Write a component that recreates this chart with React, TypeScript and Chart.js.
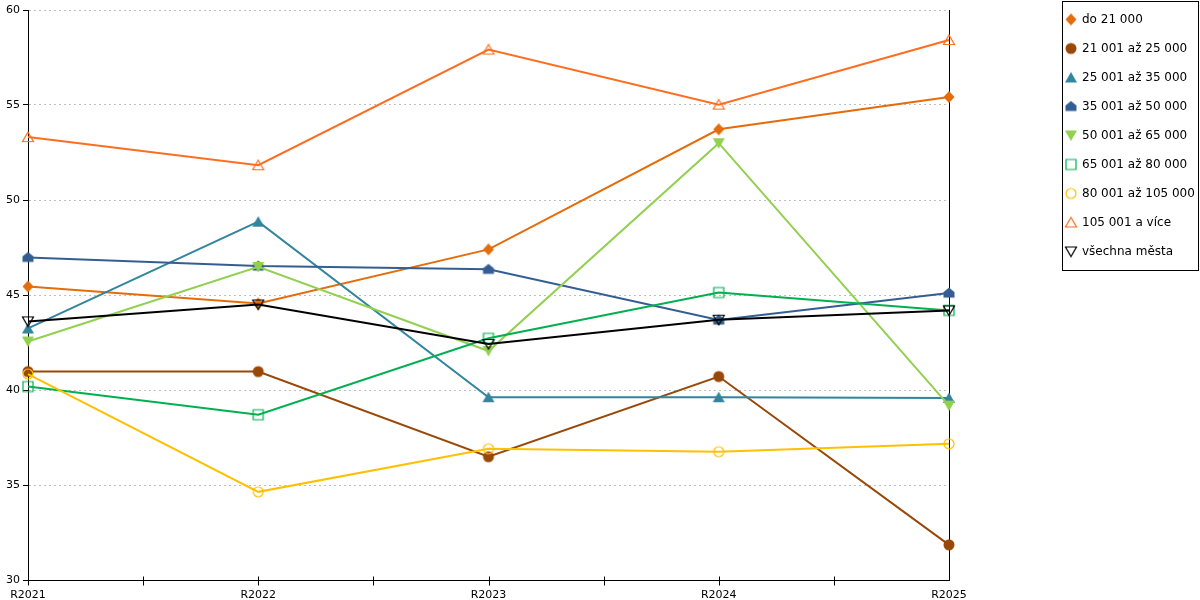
import { useEffect, useRef } from 'react';
import { Chart, registerables } from 'chart.js';

Chart.register(...registerables);

// ---- data ----
const years = ['R2021', 'R2022', 'R2023', 'R2024', 'R2025'];

const seriesNames = [
  'do 21 000',
  '21 001 až 25 000',
  '25 001 až 35 000',
  '35 001 až 50 000',
  '50 001 až 65 000',
  '65 001 až 80 000',
  '80 001 až 105 000',
  '105 001 a více',
  'všechna města',
];

const upTo21 = [45.45, 44.55, 47.4, 53.72, 55.42];
const from21to25 = [40.97, 40.97, 36.49, 40.71, 31.85];
const from25to35 = [43.24, 48.86, 39.62, 39.62, 39.58];
const from35to50 = [46.98, 46.52, 46.35, 43.68, 45.1];
const from50to65 = [42.55, 46.48, 42.05, 52.99, 39.18];
const from65to80 = [40.18, 38.7, 42.72, 45.13, 44.19];
const from80to105 = [40.84, 34.64, 36.91, 36.75, 37.17];
const from105up = [53.31, 51.83, 57.92, 55.02, 58.42];
const allCities = [43.61, 44.5, 42.42, 43.7, 44.19];

const yTicks = [30, 35, 40, 45, 50, 55, 60];

const seriesValues = [
  upTo21, from21to25, from25to35, from35to50, from50to65,
  from65to80, from80to105, from105up, allCities,
];

const colors = [
  '#e46c0a', '#984807', '#31859c', '#345e92', '#92d050',
  '#00b050', '#ffc000', '#ff6d1f', '#000000',
];

type Shape = 'diamond' | 'circle' | 'triUp' | 'house' | 'triDown' | 'square';
const markers: { shape: Shape; filled: boolean }[] = [
  { shape: 'diamond', filled: true },
  { shape: 'circle', filled: true },
  { shape: 'triUp', filled: true },
  { shape: 'house', filled: true },
  { shape: 'triDown', filled: true },
  { shape: 'square', filled: false },
  { shape: 'circle', filled: false },
  { shape: 'triUp', filled: false },
  { shape: 'triDown', filled: false },
];

function makeMarker(shape: Shape, filled: boolean, color: string) {
  const c = document.createElement('canvas');
  c.width = 16;
  c.height = 16;
  const g = c.getContext('2d')!;
  g.translate(8, 8);
  g.beginPath();
  const r = filled ? 5.5 : 5;
  switch (shape) {
    case 'diamond':
      g.moveTo(0, -6); g.lineTo(5.5, 0); g.lineTo(0, 6); g.lineTo(-5.5, 0);
      break;
    case 'circle':
      g.arc(0, 0, r, 0, Math.PI * 2);
      break;
    case 'triUp':
      g.moveTo(0, -r); g.lineTo(r + 0.5, r - 0.5); g.lineTo(-r - 0.5, r - 0.5);
      break;
    case 'triDown':
      g.moveTo(-r - 0.5, -r + 0.5); g.lineTo(r + 0.5, -r + 0.5); g.lineTo(0, r);
      break;
    case 'house':
      g.moveTo(0, -5.5); g.lineTo(5.5, -1); g.lineTo(5.5, 4.5);
      g.lineTo(-5.5, 4.5); g.lineTo(-5.5, -1);
      break;
    case 'square':
      g.rect(-5, -5, 10, 10);
      break;
  }
  g.closePath();
  if (filled) {
    g.fillStyle = color;
    g.fill();
  } else {
    g.lineWidth = 1.2;
    g.strokeStyle = color;
    g.stroke();
  }
  return c;
}

export default function App() {
  const canvasRef = useRef<HTMLCanvasElement>(null);

  useEffect(() => {
    document.body.style.margin = '0';
    if (!canvasRef.current) return;
    const ctx = canvasRef.current.getContext('2d');
    if (!ctx) return;

    Chart.defaults.font.family = '"DejaVu Sans", sans-serif';

    const icons = markers.map((m, i) => makeMarker(m.shape, m.filled, colors[i]));

    const frame = {
      id: 'frame',
      beforeDatasetsDraw(chart: any) {
        const { ctx: c, chartArea } = chart;
        c.save();
        c.strokeStyle = '#000';
        c.lineWidth = 1;
        c.beginPath();
        const x = Math.round(chartArea.right) + 0.5;
        c.moveTo(x, chartArea.top);
        c.lineTo(x, chartArea.bottom);
        // x axis tick marks, crossing the axis, at categories and between them
        const xs = chart.scales.x;
        const b = Math.round(chartArea.bottom) + 0.5;
        for (let i = 0; i < years.length - 1; i++) {
          const px = Math.round(xs.getPixelForValue(i)) + 0.5;
          c.moveTo(px, b - 4);
          c.lineTo(px, b + 5);
          const mx = Math.round((xs.getPixelForValue(i) + xs.getPixelForValue(i + 1)) / 2) + 0.5;
          c.moveTo(mx, b - 4);
          c.lineTo(mx, b + 5);
        }
        c.stroke();
        c.restore();
      },
      afterDraw(chart: any) {
        const c = chart.ctx;
        c.save();
        c.fillStyle = '#fff';
        c.strokeStyle = '#000';
        c.lineWidth = 1;
        c.fillRect(1062, 1, 136, 270);
        c.strokeRect(1062.5, 1.5, 136, 269);
        c.font = '12px "DejaVu Sans"';
        c.fillStyle = '#000';
        c.textBaseline = 'middle';
        seriesNames.forEach((name, i) => {
          const cy = 19.5 + i * 29;
          c.drawImage(icons[i], 1071 - 8, cy - 8);
          c.fillText(name, 1082, cy);
        });
        c.restore();
      },
    };

    const chart = new Chart(ctx, {
      type: 'line',
      data: {
        labels: years,
        datasets: seriesNames.map((name, i) => ({
          label: name,
          data: seriesValues[i],
          borderColor: colors[i],
          backgroundColor: colors[i],
          borderWidth: 2,
          pointStyle: icons[i],
          pointRadius: 6,
          tension: 0,
          clip: false,
          order: seriesNames.length - i,
        })),
      },
      options: {
        responsive: true,
        maintainAspectRatio: false,
        animation: false,
        layout: { padding: { top: 10, right: 251, left: 0, bottom: 0 } },
        plugins: {
          legend: { display: false },
          tooltip: { enabled: false },
        },
        scales: {
          x: {
            offset: false,
            afterFit: (s: any) => { s.height = 20; },
            grid: { display: true, drawOnChartArea: false, drawTicks: false, color: '#000' },
            border: { display: true, color: '#000', width: 1 },
            ticks: { color: '#000', font: { size: 11 }, padding: 9, maxRotation: 0, autoSkip: false },
          },
          y: {
            min: yTicks[0],
            max: yTicks[yTicks.length - 1],
            afterFit: (s: any) => { s.width = 28; },
            afterBuildTicks: (s: any) => { s.ticks = yTicks.map((v) => ({ value: v })); },
            grid: {
              color: (c: any) => (c.tick && c.tick.value === 30 ? 'rgba(0,0,0,0)' : '#bfbfbf'),
              tickColor: '#000',
              tickLength: 5,
              tickBorderDash: [],
            },
            border: { display: true, color: '#000', width: 1, dash: [2, 3] },
            ticks: { color: '#000', font: { size: 11 }, padding: 3 },
          },
        },
      },
      plugins: [frame],
    });

    return () => chart.destroy();
  }, []);

  return (
    <div style={{ position: 'relative', width: 1200, height: 600 }}>
      <canvas ref={canvasRef} />
    </div>
  );
}
